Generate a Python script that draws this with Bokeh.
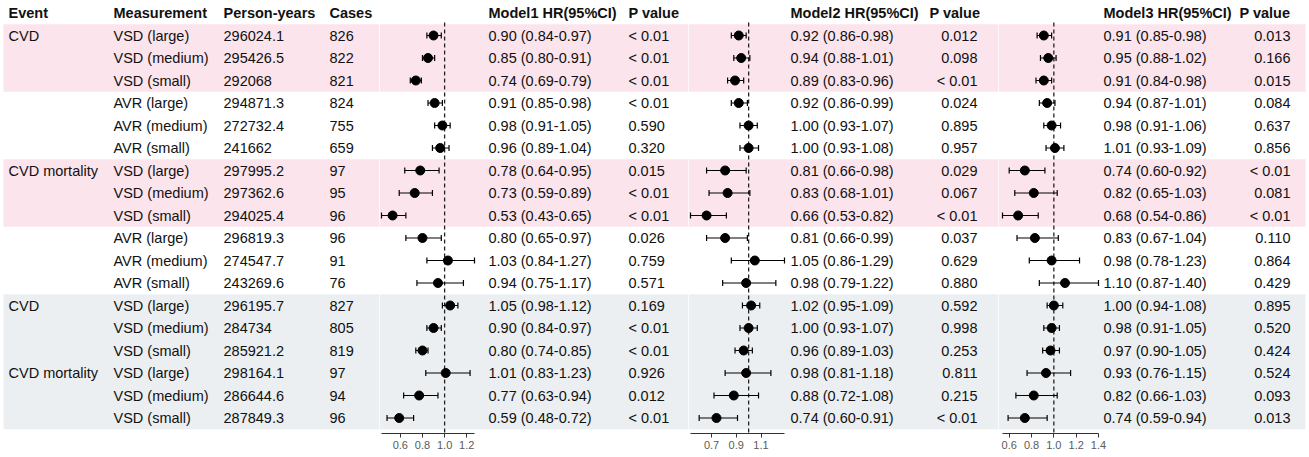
from bokeh.plotting import figure
from bokeh.layouts import row
from bokeh.models import (Range1d, ColumnDataSource, Whisker, TeeHead, FixedTicker,
                          PrintfTickFormatter, LinearAxis)
from bokeh.core.properties import value
from bokeh.embed import file_html
from bokeh.resources import INLINE

# ---------------- data ----------------
events = ["CVD", "", "", "", "", "",
          "CVD mortality", "", "", "", "", "",
          "CVD", "", "",
          "CVD mortality", "", ""]
measurement = ["VSD (large)", "VSD (medium)", "VSD (small)",
               "AVR (large)", "AVR (medium)", "AVR (small)",
               "VSD (large)", "VSD (medium)", "VSD (small)",
               "AVR (large)", "AVR (medium)", "AVR (small)",
               "VSD (large)", "VSD (medium)", "VSD (small)",
               "VSD (large)", "VSD (medium)", "VSD (small)"]
person_years = ["296024.1", "295426.5", "292068", "294871.3", "272732.4", "241662",
                "297995.2", "297362.6", "294025.4", "296819.3", "274547.7", "243269.6",
                "296195.7", "284734", "285921.2", "298164.1", "286644.6", "287849.3"]
cases = [826, 822, 821, 824, 755, 659, 97, 95, 96, 96, 91, 76, 827, 805, 819, 97, 94, 96]

m1_hr = [0.90, 0.85, 0.74, 0.91, 0.98, 0.96, 0.78, 0.73, 0.53, 0.80, 1.03, 0.94, 1.05, 0.90, 0.80, 1.01, 0.77, 0.59]
m1_lo = [0.84, 0.80, 0.69, 0.85, 0.91, 0.89, 0.64, 0.59, 0.43, 0.65, 0.84, 0.75, 0.98, 0.84, 0.74, 0.83, 0.63, 0.48]
m1_hi = [0.97, 0.91, 0.79, 0.98, 1.05, 1.04, 0.95, 0.89, 0.65, 0.97, 1.27, 1.17, 1.12, 0.97, 0.85, 1.23, 0.94, 0.72]
m1_p = ["< 0.01", "< 0.01", "< 0.01", "< 0.01", "0.590", "0.320", "0.015", "< 0.01", "< 0.01",
        "0.026", "0.759", "0.571", "0.169", "< 0.01", "< 0.01", "0.926", "0.012", "< 0.01"]

m2_hr = [0.92, 0.94, 0.89, 0.92, 1.00, 1.00, 0.81, 0.83, 0.66, 0.81, 1.05, 0.98, 1.02, 1.00, 0.96, 0.98, 0.88, 0.74]
m2_lo = [0.86, 0.88, 0.83, 0.86, 0.93, 0.93, 0.66, 0.68, 0.53, 0.66, 0.86, 0.79, 0.95, 0.93, 0.89, 0.81, 0.72, 0.60]
m2_hi = [0.98, 1.01, 0.96, 0.99, 1.07, 1.08, 0.98, 1.01, 0.82, 0.99, 1.29, 1.22, 1.09, 1.07, 1.03, 1.18, 1.08, 0.91]
m2_p = ["0.012", "0.098", "< 0.01", "0.024", "0.895", "0.957", "0.029", "0.067", "< 0.01",
        "0.037", "0.629", "0.880", "0.592", "0.998", "0.253", "0.811", "0.215", "< 0.01"]

m3_hr = [0.91, 0.95, 0.91, 0.94, 0.98, 1.01, 0.74, 0.82, 0.68, 0.83, 0.98, 1.10, 1.00, 0.98, 0.97, 0.93, 0.82, 0.74]
m3_lo = [0.85, 0.88, 0.84, 0.87, 0.91, 0.93, 0.60, 0.65, 0.54, 0.67, 0.78, 0.87, 0.94, 0.91, 0.90, 0.76, 0.66, 0.59]
m3_hi = [0.98, 1.02, 0.98, 1.01, 1.06, 1.09, 0.92, 1.03, 0.86, 1.04, 1.23, 1.40, 1.08, 1.05, 1.05, 1.15, 1.03, 0.94]
m3_p = ["0.013", "0.166", "0.015", "0.084", "0.637", "0.856", "< 0.01", "0.081", "< 0.01",
        "0.110", "0.864", "0.429", "0.895", "0.520", "0.424", "0.524", "0.093", "0.013"]

m1_ticks = [0.6, 0.8, 1.0, 1.2]
m2_ticks = [0.7, 0.9, 1.1]
m3_ticks = [0.6, 0.8, 1.0, 1.2, 1.4]

left_headers = ["Event", "Measurement", "Person-years", "Cases"]
model_headers = ["Model1 HR(95%CI)", "Model2 HR(95%CI)", "Model3 HR(95%CI)"]
p_header = "P value"
null_hr = 1.0

PINK = "#FCE4EC"
GREY = "#ECEFF1"
row_fill = [PINK] * 3 + [None] * 3 + [PINK] * 3 + [None] * 3 + [GREY] * 6

# ---------------- layout / style ----------------
FONT = "Liberation Sans"
FS = "14.5px"
TXT = "#111111"
H = 455
BB = 22
ROW_PX = 22.5
HEADER_PX = 12.5
Y_TOP = -HEADER_PX / ROW_PX
Y_BOT = Y_TOP + (H - BB) / ROW_PX
HEADER_Y = 0.0
rows_idx = list(range(1, len(measurement) + 1))


def band_groups():
    groups = []
    start = None
    for i, c in enumerate(row_fill):
        if c is not None and (start is None or row_fill[start] != c):
            if start is not None:
                groups.append((start, i - 1, row_fill[start]))
            start = i
        elif c is None and start is not None:
            groups.append((start, i - 1, row_fill[start]))
            start = None
    if start is not None:
        groups.append((start, len(row_fill) - 1, row_fill[start]))
    return groups


def make_fig(width, x_range, extra=None, band_l=0, band_r=None):
    p = figure(width=width, height=H, x_range=x_range, y_range=Range1d(Y_BOT, Y_TOP),
               output_backend="svg", toolbar_location=None,
               x_axis_location=None, y_axis_location=None,
               min_border_left=0, min_border_right=0, min_border_top=0, min_border_bottom=BB)
    if extra is not None:
        p.extra_x_ranges = {"px": extra}
    p.grid.visible = False
    p.outline_line_color = None
    p.background_fill_color = "white"
    p.border_fill_color = "white"
    groups = band_groups()
    kw = {"x_range_name": "px"} if extra is not None else {}
    br = width if band_r is None else band_r
    p.quad(left=[band_l] * len(groups), right=[br] * len(groups),
           top=[rows_idx[g[0]] - 0.5 for g in groups],
           bottom=[rows_idx[g[1]] + 0.5 for g in groups],
           fill_color=[g[2] for g in groups], line_color=None, **kw)
    return p


def add_text(p, xs, ys, texts, align="left", bold=False, name=None):
    kw = {"x_range_name": name} if name else {}
    p.text(x=xs, y=ys, text=texts, text_font=value(FONT), text_font_size=value(FS),
           text_baseline="middle", text_align=align, text_color=TXT,
           text_font_style="bold" if bold else "normal", **kw)


# ---------- left table ----------
LW = 379
left = make_fig(LW, Range1d(0, LW), band_l=3)
col_x = [8, 113, 223, 329]
add_text(left, col_x, [HEADER_Y] * 4, left_headers, bold=True)
ev_rows = [r for r, e in zip(rows_idx, events) if e]
ev_txt = [e for e in events if e]
add_text(left, [col_x[0]] * len(ev_rows), ev_rows, ev_txt)
add_text(left, [col_x[1]] * len(rows_idx), rows_idx, measurement)
add_text(left, [col_x[2]] * len(rows_idx), rows_idx, person_years)
add_text(left, [col_x[3]] * len(rows_idx), rows_idx, [str(c) for c in cases])


def model_block(width, pad_left, core_w, hr, lo, hi, pvals, ticks, header,
                hr_x, ph_x, pv_x, pv_align, band_r=None):
    a, b = min(lo), max(hi)
    ppu = core_w / (b - a)
    xr = Range1d(a - pad_left / ppu, b + (width - pad_left - core_w) / ppu)
    p = make_fig(width, xr, extra=Range1d(0, width), band_r=band_r)
    src = ColumnDataSource(dict(y=rows_idx, hr=hr, lo=lo, hi=hi))
    p.segment(x0=[null_hr], y0=[0.42], x1=[null_hr], y1=[Y_BOT],
              line_dash="4 3", line_color="#222222", line_width=1.3)
    w = Whisker(source=src, base="y", lower="lo", upper="hi", dimension="width",
                line_color="black", line_width=1.2, level="annotation",
                upper_head=TeeHead(size=6, line_color="black", line_width=1.2),
                lower_head=TeeHead(size=6, line_color="black", line_width=1.2))
    p.add_layout(w)
    p.scatter("hr", "y", source=src, size=9, color="black")
    ax = LinearAxis(ticker=FixedTicker(ticks=ticks),
                    formatter=PrintfTickFormatter(format="%.1f"),
                    bounds=(a, b))
    ax.axis_line_color = "#333333"
    ax.axis_line_width = 1
    ax.major_tick_line_color = "#333333"
    ax.major_tick_in = 0
    ax.major_tick_out = 4
    ax.minor_tick_in = 0
    ax.minor_tick_out = 0
    ax.major_label_standoff = 3
    ax.major_label_text_font = FONT
    ax.major_label_text_font_size = "11px"
    ax.major_label_text_color = "#5a5a5a"
    p.add_layout(ax, "below")

    hr_txt = [f"{h:.2f} ({l:.2f}-{u:.2f})" for h, l, u in zip(hr, lo, hi)]
    add_text(p, [hr_x, ph_x], [HEADER_Y, HEADER_Y], [header, p_header], bold=True, name="px")
    add_text(p, [hr_x] * len(rows_idx), rows_idx, hr_txt, name="px")
    add_text(p, [pv_x] * len(rows_idx), rows_idx, pvals, align=pv_align, name="px")
    return p


b1 = model_block(309, 2, 93, m1_hr, m1_lo, m1_hi, m1_p, m1_ticks, model_headers[0],
                 109, 249, 249, "left")
b2 = model_block(310, 2, 94, m2_hr, m2_lo, m2_hi, m2_p, m2_ticks, model_headers[1],
                 102, 241, 289, "right")
b3 = model_block(309, 4, 96, m3_hr, m3_lo, m3_hi, m3_p, m3_ticks, model_headers[2],
                 105, 241, 292, "right", band_r=307)

layout = row(left, b1, b2, b3, spacing=0)
open("out.html", "w").write(file_html(layout, INLINE))
